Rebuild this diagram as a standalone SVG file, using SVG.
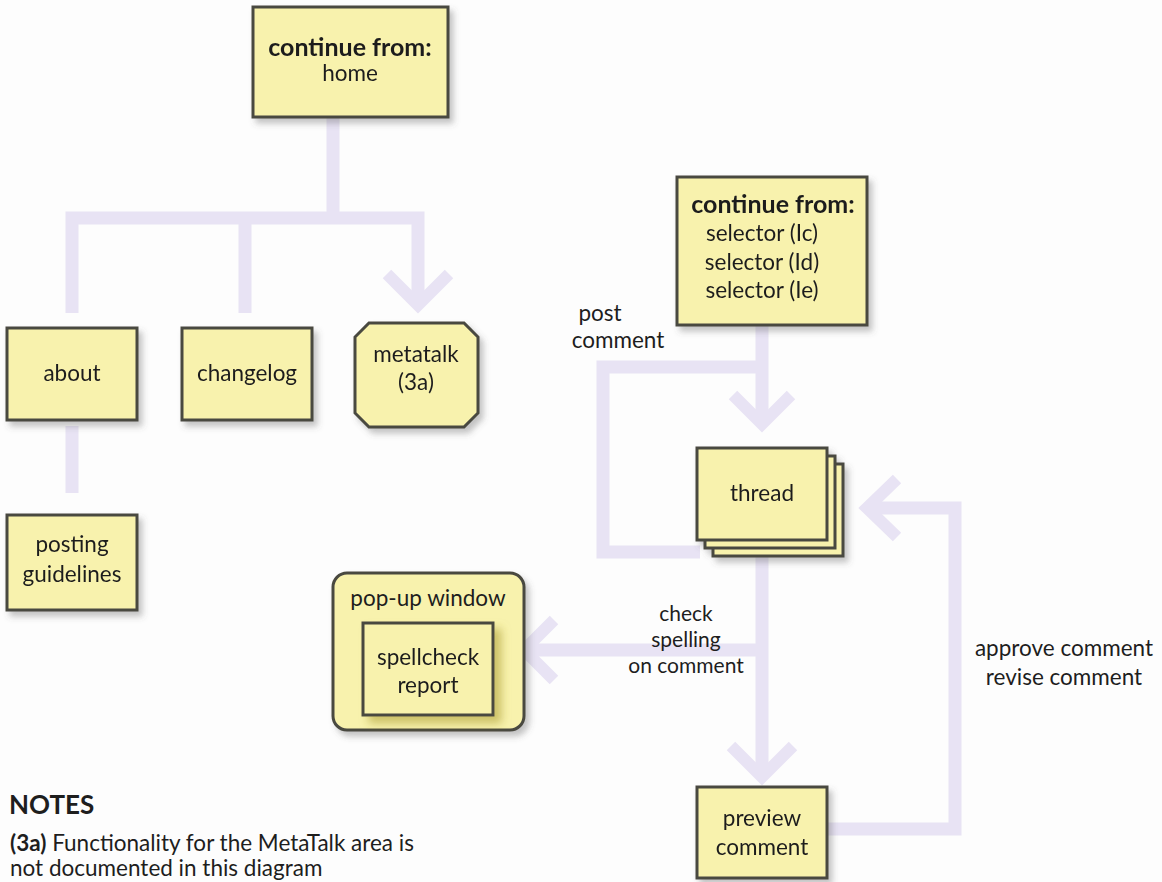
<svg xmlns="http://www.w3.org/2000/svg" width="1162" height="882" viewBox="0 0 1162 882">
  <style>
    .box { fill: #f8f2ad; stroke: #4a4940; stroke-width: 3; }
    .lbl { font-family: Lato, "Liberation Sans", sans-serif; font-size: 22.5px; fill: #1e1e1e; text-anchor: middle; }
    .b { font-weight: bold; font-size: 25px; }
    .sm { font-size: 21px; }
    .conn { fill: none; stroke: #e8e3f4; stroke-width: 13; stroke-linejoin: miter; }
    .head { fill: none; stroke: #e8e3f4; stroke-width: 12; stroke-linecap: butt; stroke-linejoin: miter; }
  </style>
  <defs>
    <filter id="shadow" x="-20%" y="-20%" width="150%" height="150%">
      <feDropShadow dx="4" dy="5" stdDeviation="3" flood-color="#555" flood-opacity="0.35"/>
    </filter>
    <filter id="innerShadow" x="-20%" y="-20%" width="150%" height="150%">
      <feDropShadow dx="7" dy="7" stdDeviation="4" flood-color="#a89a30" flood-opacity="0.55"/>
    </filter>
  </defs>

  <rect width="1162" height="882" fill="#fdfdfd"/>

  <!-- connectors -->
  <g id="connectors">
    <!-- home to top-level pages -->
    <path class="conn" d="M333,117 V218"/>
    <path class="conn" d="M72,313 V218 H418 V302"/>
    <path class="conn" d="M245,218 V313"/>
    <polyline class="head" points="387,274 418,305 449,274"/>
    <!-- about to posting guidelines -->
    <path class="conn" d="M72,426 V493"/>
    <!-- selector to thread -->
    <path class="conn" d="M762,325 V424"/>
    <polyline class="head" points="733,395 762,424 791,395"/>
    <!-- post comment loop -->
    <path class="conn" d="M700,552 H603 V367 H762"/>
    <!-- thread to preview -->
    <path class="conn" d="M762,557 V776"/>
    <polyline class="head" points="731,746 762,777 793,746"/>
    <!-- spellcheck branch -->
    <path class="conn" d="M762,650 H526"/>
    <polyline class="head" points="554,620 524,650 554,680"/>
    <!-- approve / revise loop -->
    <path class="conn" d="M827,829 H955 V508 H868"/>
    <polyline class="head" points="897,479 867,508 897,537"/>
  </g>

  <!-- nodes -->
  <g id="home" filter="url(#shadow)">
    <rect class="box" x="253" y="7" width="195" height="110"/>
    <text class="lbl b" x="350" y="56">continue from:</text>
    <text class="lbl" x="350" y="81">home</text>
  </g>

  <g id="about" filter="url(#shadow)">
    <rect class="box" x="7" y="328" width="130" height="92"/>
    <text class="lbl" x="72" y="381">about</text>
  </g>

  <g id="changelog" filter="url(#shadow)">
    <rect class="box" x="182" y="328" width="130" height="92"/>
    <text class="lbl" x="247" y="381">changelog</text>
  </g>

  <g id="metatalk" filter="url(#shadow)">
    <polygon class="box" points="369,323 464,323 478,337 478,413 464,427 369,427 355,413 355,337"/>
    <text class="lbl" x="416" y="362">metatalk</text>
    <text class="lbl" x="416" y="390">(3a)</text>
  </g>

  <g id="posting-guidelines" filter="url(#shadow)">
    <rect class="box" x="7" y="515" width="130" height="95"/>
    <text class="lbl" x="72" y="552">posting</text>
    <text class="lbl" x="72" y="582">guidelines</text>
  </g>

  <g id="selector" filter="url(#shadow)">
    <rect class="box" x="677" y="177" width="190" height="148"/>
    <text class="lbl b" x="773" y="213">continue from:</text>
    <text class="lbl" x="762" y="241">selector (Ic)</text>
    <text class="lbl" x="762" y="270">selector (Id)</text>
    <text class="lbl" x="762" y="298">selector (Ie)</text>
  </g>

  <g id="thread" filter="url(#shadow)">
    <rect class="box" x="713" y="464" width="130" height="92"/>
    <rect class="box" x="705" y="456" width="130" height="92"/>
    <rect class="box" x="697" y="448" width="130" height="92"/>
    <text class="lbl" x="762" y="501">thread</text>
  </g>

  <g id="popup-window">
    <rect class="box" x="333" y="573" width="191" height="157" rx="14" filter="url(#shadow)"/>
    <text class="lbl" x="428" y="606">pop-up window</text>
    <g id="spellcheck-report" filter="url(#innerShadow)">
      <rect class="box" x="363" y="623" width="130" height="92"/>
      <text class="lbl" x="428" y="665">spellcheck</text>
      <text class="lbl" x="428" y="693">report</text>
    </g>
  </g>

  <g id="preview-comment" filter="url(#shadow)">
    <rect class="box" x="697" y="787" width="130" height="91"/>
    <text class="lbl" x="762" y="826">preview</text>
    <text class="lbl" x="762" y="855">comment</text>
  </g>

  <!-- connector labels -->
  <g id="labels">
    <text class="lbl" x="600" y="321">post</text>
    <text class="lbl" x="618" y="348">comment</text>
    <text class="lbl sm" x="686" y="621">check</text>
    <text class="lbl sm" x="686" y="647">spelling</text>
    <text class="lbl sm" x="686" y="673">on comment</text>
    <text class="lbl" x="1064" y="656">approve comment</text>
    <text class="lbl" x="1064" y="685">revise comment</text>
  </g>

  <!-- notes -->
  <g id="notes">
    <text class="lbl b" x="9" y="814" style="text-anchor:start;font-size:26px">NOTES</text>
    <text class="lbl" x="10" y="851" style="text-anchor:start"><tspan font-weight="bold">(3a)</tspan> Functionality for the MetaTalk area is</text>
    <text class="lbl" x="10" y="876" style="text-anchor:start">not documented in this diagram</text>
  </g>
</svg>
